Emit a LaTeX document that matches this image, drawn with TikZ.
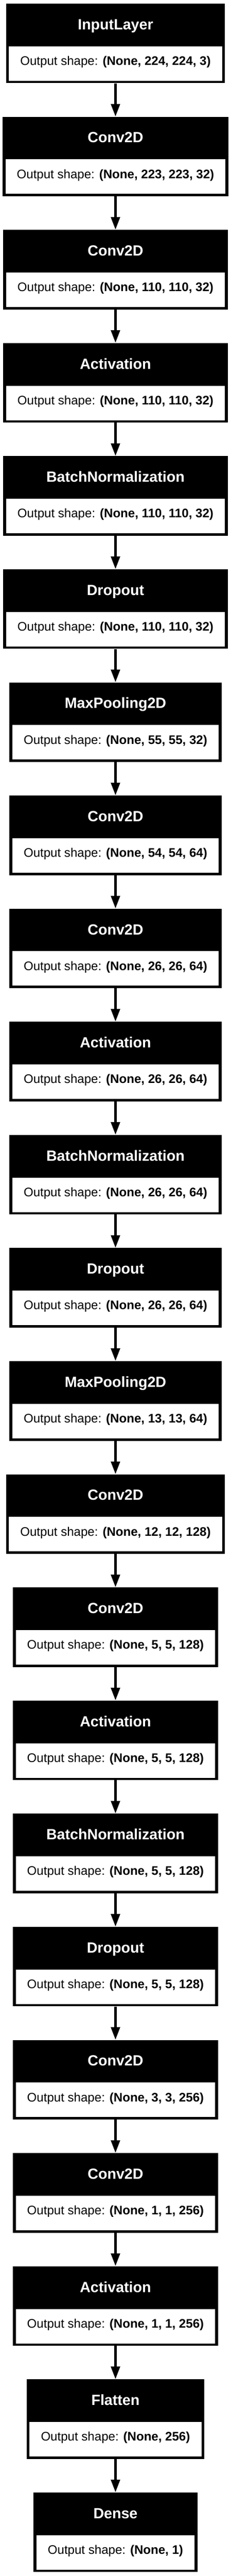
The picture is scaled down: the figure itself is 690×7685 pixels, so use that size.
\documentclass[tikz,border=0pt]{standalone}
\usepackage{fontspec}
\setmainfont{Liberation Sans}
\usetikzlibrary{calc,fit,backgrounds,arrows.meta}

\tikzset{
  shapebox/.style={fill=white, inner xsep=34pt, inner ysep=0pt, minimum height=103pt,
    text height=30pt, text depth=20pt, font=\fontsize{37}{44}\selectfont},
  titlebox/.style={text=white, inner sep=0pt, font=\fontsize{44}{52}\selectfont\bfseries},
  layerbox/.style={fill=black, inner sep=0pt},
  flow/.style={line width=8pt, -{Triangle[length=38pt,width=26pt]}}
}

\begin{document}
\begin{tikzpicture}[x=1pt,y=1pt]
    \useasboundingbox (0,0) rectangle (690,-7685);
    \begin{scope}[on background layer]
        \fill[white] (0,0) rectangle (690,-7685);
    \end{scope}
    % one box per layer
    \foreach \ttl/\shp [count=\i] in {
        InputLayer/{224, 224, 3},
        Conv2D/{223, 223, 32},
        Conv2D/{110, 110, 32},
        Activation/{110, 110, 32},
        BatchNormalization/{110, 110, 32},
        Dropout/{110, 110, 32},
        MaxPooling2D/{55, 55, 32},
        Conv2D/{54, 54, 64},
        Conv2D/{26, 26, 64},
        Activation/{26, 26, 64},
        BatchNormalization/{26, 26, 64},
        Dropout/{26, 26, 64},
        MaxPooling2D/{13, 13, 64},
        Conv2D/{12, 12, 128},
        Conv2D/{5, 5, 128},
        Activation/{5, 5, 128},
        BatchNormalization/{5, 5, 128},
        Dropout/{5, 5, 128},
        Conv2D/{3, 3, 256},
        Conv2D/{1, 1, 256},
        Activation/{1, 1, 256},
        Flatten/{256},
        Dense/{1}}{
        \pgfmathsetmacro\yy{-(189.5+337.5*(\i-1))}
        \node[shapebox] (s\i) at (345,\yy) {Output shape: \textbf{(None, \shp)}};
        \coordinate (a\i) at ($(s\i.south west)+(-8.5,-7)$);
        \coordinate (b\i) at ($(s\i.north east)+(8.5,127)$);
        \begin{scope}[on background layer]
            \node[layerbox, fit=(a\i)(b\i)] (l\i) {};
        \end{scope}
        \node[titlebox, anchor=base] (t\i) at ($(s\i.north)+(0,49.7)$) {\ttl};
    }
    % connectors
    \foreach \i [evaluate=\i as \j using int(\i+1)] in {1,...,22}
        \draw[flow] (l\i.south) -- (l\j.north);
\end{tikzpicture}
\end{document}
